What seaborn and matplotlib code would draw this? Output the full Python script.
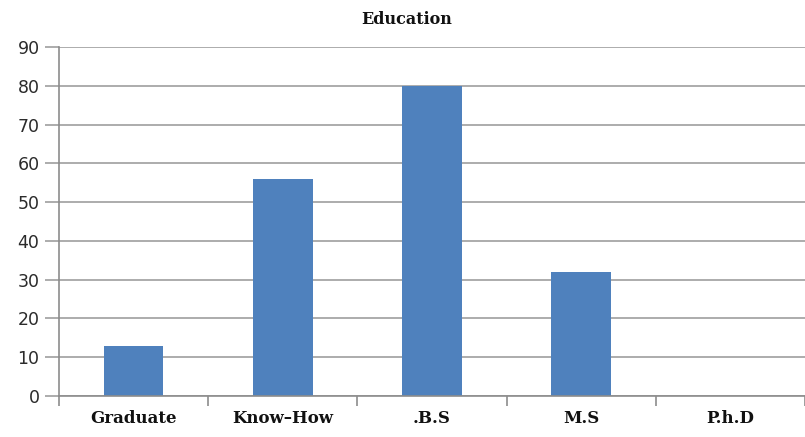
import pandas as pd
import matplotlib.pyplot as plt
import seaborn as sns

# Data
categories = ['Graduate', 'Know\u2013How', '.B.S', 'M.S', 'P.h.D']
counts = [13, 56, 80, 32, 0]

df = pd.DataFrame({'Education': categories, 'Count': counts})

sns.set_style('white')
fig = plt.figure(figsize=(8.05, 4.37), dpi=100)
ax = fig.add_axes([0.0733, 0.0938, 0.9267, 0.7986])

sns.barplot(data=df, x='Education', y='Count', color='#4f81bd',
            saturation=1, width=0.4, linewidth=0, edgecolor='none', ax=ax)

ax.set_ylim(0, 90)
ax.set_xlim(-0.5, 4.5)
ax.set_yticks(range(0, 91, 10))
ax.yaxis.grid(True, color='#969696', linewidth=1.1)
ax.set_axisbelow(True)
for s in ['top', 'right']:
    ax.spines[s].set_visible(False)
for s in ['left', 'bottom']:
    ax.spines[s].set_color('#8c8c8c')
    ax.spines[s].set_linewidth(1.2)

# category boundary ticks on x axis
ax.set_xticks([i - 0.5 for i in range(6)], minor=True)
ax.tick_params(axis='x', which='minor', length=7, color='#8c8c8c', width=1.2,
               direction='out', bottom=True)
ax.tick_params(axis='x', which='major', length=0, pad=10)
ax.tick_params(axis='y', length=10, color='#969696', width=1.1, left=True,
               labelsize=12.5, labelcolor='#2b2b2b', pad=4)
for lbl in ax.get_xticklabels():
    lbl.set_fontfamily('DejaVu Serif')
    lbl.set_fontweight('bold')
    lbl.set_fontsize(12)
    lbl.set_color('#111111')

ax.set_xlabel('')
ax.set_ylabel('')
fig.text(0.505, 0.955, 'Education', ha='center', va='center',
         fontsize=11.5, fontweight='bold', family='DejaVu Serif', color='#111111')

plt.savefig('out.png', dpi=100)
